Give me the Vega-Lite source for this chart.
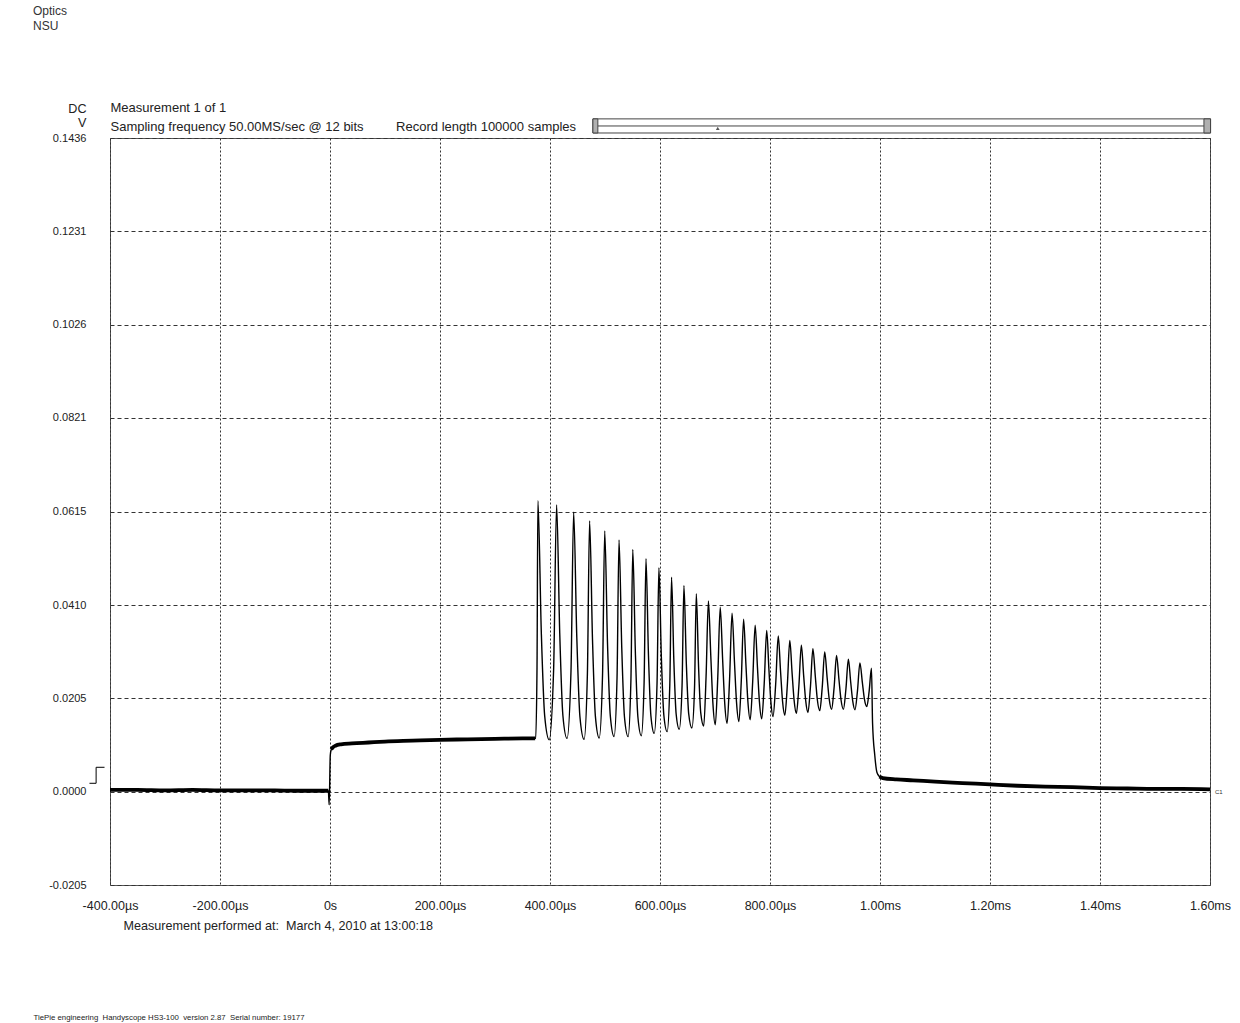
{
  "$schema": "https://vega.github.io/schema/vega-lite/v6.json",
  "width": 1100,
  "height": 747,
  "autosize": {"type": "none"},
  "padding": {"left": 110, "top": 138, "right": 30, "bottom": 138},
  "background": "white",
  "config": {
    "font": "Liberation Sans",
    "view": {"stroke": "#555555", "strokeWidth": 1}
  },
  "title": {
    "text": ["Optics", "NSU"],
    "anchor": "start",
    "frame": "group",
    "dx": -77,
    "offset": 69,
    "fontSize": 12,
    "fontWeight": "normal",
    "color": "#333333",
    "lineHeight": 15,
    "font": "Liberation Sans"
  },
  "datasets": {
    "trace": [
      {"t": -400, "v": 0.0004, "seg": "pre"},
      {"t": -350, "v": 0.0004, "seg": "pre"},
      {"t": -300, "v": 0.0003, "seg": "pre"},
      {"t": -250, "v": 0.0004, "seg": "pre"},
      {"t": -200, "v": 0.0003, "seg": "pre"},
      {"t": -150, "v": 0.0003, "seg": "pre"},
      {"t": -100, "v": 0.0003, "seg": "pre"},
      {"t": -50, "v": 0.0002, "seg": "pre"},
      {"t": -3, "v": 0.0002, "seg": "pre"},
      {"t": -1.5, "v": -0.0029, "seg": "step"},
      {"t": 0.5, "v": 0.0080, "seg": "step"},
      {"t": 2.5, "v": 0.0093, "seg": "plateau"},
      {"t": 5, "v": 0.0097, "seg": "plateau"},
      {"t": 10, "v": 0.0101, "seg": "plateau"},
      {"t": 20, "v": 0.0104, "seg": "plateau"},
      {"t": 40, "v": 0.0106, "seg": "plateau"},
      {"t": 70, "v": 0.0108, "seg": "plateau"},
      {"t": 100, "v": 0.0110, "seg": "plateau"},
      {"t": 150, "v": 0.0112, "seg": "plateau"},
      {"t": 200, "v": 0.0114, "seg": "plateau"},
      {"t": 250, "v": 0.0115, "seg": "plateau"},
      {"t": 300, "v": 0.0116, "seg": "plateau"},
      {"t": 350, "v": 0.0117, "seg": "plateau"},
      {"t": 373, "v": 0.0117, "seg": "plateau"},
      {"t": 374, "v": 0.0117, "seg": "train"},
      {"t": 376.4, "v": 0.0274, "seg": "train"},
      {"t": 378, "v": 0.0639, "seg": "train"},
      {"t": 384.2, "v": 0.0350, "seg": "train"},
      {"t": 390.3, "v": 0.0167, "seg": "train"},
      {"t": 398.5, "v": 0.0114, "seg": "train"},
      {"t": 406.6, "v": 0.0269, "seg": "train"},
      {"t": 412, "v": 0.0630, "seg": "train"},
      {"t": 417.7, "v": 0.0348, "seg": "train"},
      {"t": 423.4, "v": 0.0168, "seg": "train"},
      {"t": 431, "v": 0.0117, "seg": "train"},
      {"t": 438.2, "v": 0.0266, "seg": "train"},
      {"t": 443, "v": 0.0614, "seg": "train"},
      {"t": 448.7, "v": 0.0340, "seg": "train"},
      {"t": 454.4, "v": 0.0165, "seg": "train"},
      {"t": 462, "v": 0.0115, "seg": "train"},
      {"t": 468, "v": 0.0259, "seg": "train"},
      {"t": 472, "v": 0.0595, "seg": "train"},
      {"t": 477.3, "v": 0.0333, "seg": "train"},
      {"t": 482.5, "v": 0.0166, "seg": "train"},
      {"t": 489.5, "v": 0.0118, "seg": "train"},
      {"t": 495.5, "v": 0.0255, "seg": "train"},
      {"t": 499.5, "v": 0.0573, "seg": "train"},
      {"t": 504.6, "v": 0.0324, "seg": "train"},
      {"t": 509.7, "v": 0.0166, "seg": "train"},
      {"t": 516.5, "v": 0.0121, "seg": "train"},
      {"t": 521.9, "v": 0.0251, "seg": "train"},
      {"t": 525.5, "v": 0.0553, "seg": "train"},
      {"t": 530.5, "v": 0.0315, "seg": "train"},
      {"t": 535.4, "v": 0.0164, "seg": "train"},
      {"t": 542, "v": 0.0121, "seg": "train"},
      {"t": 547.1, "v": 0.0244, "seg": "train"},
      {"t": 550.5, "v": 0.0532, "seg": "train"},
      {"t": 555.2, "v": 0.0307, "seg": "train"},
      {"t": 559.8, "v": 0.0164, "seg": "train"},
      {"t": 566, "v": 0.0123, "seg": "train"},
      {"t": 571.1, "v": 0.0240, "seg": "train"},
      {"t": 574.5, "v": 0.0512, "seg": "train"},
      {"t": 579, "v": 0.0301, "seg": "train"},
      {"t": 583.5, "v": 0.0166, "seg": "train"},
      {"t": 589.5, "v": 0.0128, "seg": "train"},
      {"t": 594.6, "v": 0.0237, "seg": "train"},
      {"t": 598, "v": 0.0492, "seg": "train"},
      {"t": 602.5, "v": 0.0294, "seg": "train"},
      {"t": 607, "v": 0.0168, "seg": "train"},
      {"t": 613, "v": 0.0132, "seg": "train"},
      {"t": 617.8, "v": 0.0234, "seg": "train"},
      {"t": 621, "v": 0.0471, "seg": "train"},
      {"t": 625.2, "v": 0.0287, "seg": "train"},
      {"t": 629.4, "v": 0.0170, "seg": "train"},
      {"t": 635, "v": 0.0137, "seg": "train"},
      {"t": 640.1, "v": 0.0232, "seg": "train"},
      {"t": 643.5, "v": 0.0453, "seg": "train"},
      {"t": 647.9, "v": 0.0281, "seg": "train"},
      {"t": 652.2, "v": 0.0171, "seg": "train"},
      {"t": 658, "v": 0.0140, "seg": "train"},
      {"t": 662.8, "v": 0.0229, "seg": "train"},
      {"t": 666, "v": 0.0435, "seg": "train"},
      {"t": 670.1, "v": 0.0275, "seg": "train"},
      {"t": 674.1, "v": 0.0173, "seg": "train"},
      {"t": 679.5, "v": 0.0144, "seg": "train"},
      {"t": 683.8, "v": 0.0254, "seg": "train"},
      {"t": 688, "v": 0.0419, "seg": "train"},
      {"t": 692.4, "v": 0.0297, "seg": "train"},
      {"t": 696.1, "v": 0.0196, "seg": "train"},
      {"t": 700.5, "v": 0.0147, "seg": "train"},
      {"t": 705, "v": 0.0250, "seg": "train"},
      {"t": 709.5, "v": 0.0405, "seg": "train"},
      {"t": 713.9, "v": 0.0290, "seg": "train"},
      {"t": 717.6, "v": 0.0196, "seg": "train"},
      {"t": 722, "v": 0.0150, "seg": "train"},
      {"t": 726.5, "v": 0.0247, "seg": "train"},
      {"t": 731, "v": 0.0392, "seg": "train"},
      {"t": 735.4, "v": 0.0285, "seg": "train"},
      {"t": 739.1, "v": 0.0197, "seg": "train"},
      {"t": 743.5, "v": 0.0154, "seg": "train"},
      {"t": 747.8, "v": 0.0244, "seg": "train"},
      {"t": 752, "v": 0.0379, "seg": "train"},
      {"t": 756.2, "v": 0.0280, "seg": "train"},
      {"t": 759.8, "v": 0.0198, "seg": "train"},
      {"t": 764, "v": 0.0158, "seg": "train"},
      {"t": 768.5, "v": 0.0241, "seg": "train"},
      {"t": 773, "v": 0.0366, "seg": "train"},
      {"t": 777.2, "v": 0.0273, "seg": "train"},
      {"t": 780.8, "v": 0.0197, "seg": "train"},
      {"t": 785, "v": 0.0160, "seg": "train"},
      {"t": 789.5, "v": 0.0238, "seg": "train"},
      {"t": 794, "v": 0.0354, "seg": "train"},
      {"t": 798, "v": 0.0269, "seg": "train"},
      {"t": 801.5, "v": 0.0199, "seg": "train"},
      {"t": 805.5, "v": 0.0165, "seg": "train"},
      {"t": 810.3, "v": 0.0236, "seg": "train"},
      {"t": 815, "v": 0.0342, "seg": "train"},
      {"t": 819.2, "v": 0.0264, "seg": "train"},
      {"t": 822.8, "v": 0.0199, "seg": "train"},
      {"t": 827, "v": 0.0168, "seg": "train"},
      {"t": 831.5, "v": 0.0234, "seg": "train"},
      {"t": 836, "v": 0.0332, "seg": "train"},
      {"t": 840.2, "v": 0.0260, "seg": "train"},
      {"t": 843.8, "v": 0.0201, "seg": "train"},
      {"t": 848, "v": 0.0172, "seg": "train"},
      {"t": 852.5, "v": 0.0232, "seg": "train"},
      {"t": 857, "v": 0.0322, "seg": "train"},
      {"t": 861.2, "v": 0.0255, "seg": "train"},
      {"t": 864.8, "v": 0.0201, "seg": "train"},
      {"t": 869, "v": 0.0174, "seg": "train"},
      {"t": 873.5, "v": 0.0230, "seg": "train"},
      {"t": 878, "v": 0.0314, "seg": "train"},
      {"t": 882.4, "v": 0.0253, "seg": "train"},
      {"t": 886.1, "v": 0.0202, "seg": "train"},
      {"t": 890.5, "v": 0.0178, "seg": "train"},
      {"t": 895, "v": 0.0230, "seg": "train"},
      {"t": 899.5, "v": 0.0307, "seg": "train"},
      {"t": 903.9, "v": 0.0250, "seg": "train"},
      {"t": 907.6, "v": 0.0204, "seg": "train"},
      {"t": 912, "v": 0.0181, "seg": "train"},
      {"t": 916.5, "v": 0.0228, "seg": "train"},
      {"t": 921, "v": 0.0299, "seg": "train"},
      {"t": 925.4, "v": 0.0246, "seg": "train"},
      {"t": 929.1, "v": 0.0202, "seg": "train"},
      {"t": 933.5, "v": 0.0181, "seg": "train"},
      {"t": 938, "v": 0.0225, "seg": "train"},
      {"t": 942.5, "v": 0.0291, "seg": "train"},
      {"t": 946.7, "v": 0.0241, "seg": "train"},
      {"t": 950.3, "v": 0.0200, "seg": "train"},
      {"t": 954.5, "v": 0.0180, "seg": "train"},
      {"t": 959, "v": 0.0221, "seg": "train"},
      {"t": 963.5, "v": 0.0283, "seg": "train"},
      {"t": 967.9, "v": 0.0240, "seg": "train"},
      {"t": 971.6, "v": 0.0204, "seg": "train"},
      {"t": 976, "v": 0.0187, "seg": "train"},
      {"t": 980.3, "v": 0.0221, "seg": "train"},
      {"t": 984.5, "v": 0.0271, "seg": "train"},
      {"t": 986.5, "v": 0.0150, "seg": "train"},
      {"t": 990.5, "v": 0.0080, "seg": "train"},
      {"t": 994.5, "v": 0.0042, "seg": "train"},
      {"t": 999, "v": 0.0033, "seg": "post"},
      {"t": 1005, "v": 0.0030, "seg": "post"},
      {"t": 1030, "v": 0.0027, "seg": "post"},
      {"t": 1060, "v": 0.0025, "seg": "post"},
      {"t": 1100, "v": 0.0022, "seg": "post"},
      {"t": 1150, "v": 0.0019, "seg": "post"},
      {"t": 1200, "v": 0.0016, "seg": "post"},
      {"t": 1250, "v": 0.0013, "seg": "post"},
      {"t": 1300, "v": 0.0011, "seg": "post"},
      {"t": 1350, "v": 0.0010, "seg": "post"},
      {"t": 1400, "v": 0.0008, "seg": "post"},
      {"t": 1450, "v": 0.0007, "seg": "post"},
      {"t": 1500, "v": 0.0006, "seg": "post"},
      {"t": 1550, "v": 0.0006, "seg": "post"},
      {"t": 1600, "v": 0.0005, "seg": "post"}
    ]
  },
  "layer": [
    {
      "data": {"name": "trace"},
      "mark": {"type": "line", "color": "#000000", "strokeWidth": 1.4, "interpolate": "monotone"},
      "encoding": {
        "x": {
          "field": "t", "type": "quantitative",
          "scale": {"domain": [-400, 1600], "nice": false, "zero": false},
          "axis": {
            "orient": "bottom",
            "values": [-400, -200, 0, 200, 400, 600, 800, 1000, 1200, 1400, 1600],
            "labelExpr": "datum.value == 0 ? '0s' : (abs(datum.value) < 1000 ? (datum.value < 0 ? '-' : '') + format(abs(datum.value), '.2f') + 'µs' : format(datum.value / 1000, '.2f') + 'ms')",
            "labelFontSize": 12.5, "labelColor": "#222222", "labelPadding": 14,
            "labelFlush": false, "labelOverlap": false,
            "ticks": false, "domain": false,
            "grid": true, "gridColor": "#333333", "gridDash": [2, 2], "gridWidth": 1, "gridOpacity": 1,
            "title": "Measurement performed at:\u00a0\u00a0March 4, 2010 at 13:00:18",
            "titleFontSize": 12.6, "titleFontWeight": "normal", "titleColor": "#222222",
            "titleAnchor": "start", "titleAlign": "left", "titleBaseline": "alphabetic",
            "titleX": 13, "titleY": 44
          }
        },
        "y": {
          "field": "v", "type": "quantitative",
          "scale": {"domain": [-0.0205, 0.1436], "nice": false, "zero": false},
          "axis": {
            "orient": "left",
            "values": [-0.0205, 0, 0.0205, 0.041, 0.0615, 0.0821, 0.1026, 0.1231, 0.1436],
            "labelExpr": "(datum.value < 0 ? '-' : '') + format(abs(datum.value), '.4f')",
            "labelFontSize": 11, "labelColor": "#222222", "labelPadding": 24,
            "labelFlush": false, "labelOverlap": false,
            "ticks": false, "domain": false,
            "grid": true, "gridColor": "#333333", "gridDash": [4, 3], "gridWidth": 1, "gridOpacity": 1,
            "title": ["DC", "V"],
            "titleAngle": 0, "titleAlign": "right", "titleBaseline": "alphabetic",
            "titleX": -24, "titleY": -26, "titleLineHeight": 14,
            "titleFontSize": 12.6, "titleFontWeight": "normal", "titleColor": "#222222"
          }
        }
      }
    },
    {
      "data": {"name": "trace"},
      "transform": [{"filter": "datum.seg == 'pre' || datum.seg == 'plateau' || datum.seg == 'post'"}],
      "mark": {"type": "line", "color": "#000000", "strokeWidth": 3.8, "interpolate": "monotone"},
      "encoding": {
        "x": {
          "field": "t", "type": "quantitative",
          "scale": {"domain": [-400, 1600], "nice": false, "zero": false},
          "axis": {
            "orient": "top", "labels": false, "ticks": false, "domain": false, "grid": false,
            "title": ["Measurement 1 of 1", "Sampling frequency 50.00MS/sec @ 12 bits\u00a0\u00a0\u00a0\u00a0\u00a0\u00a0\u00a0\u00a0\u00a0Record length 100000 samples"],
            "titleFontSize": 13, "titleFontWeight": "normal", "titleColor": "#222222",
            "titleAnchor": "start", "titleAlign": "left", "titleBaseline": "alphabetic",
            "titleX": 0, "titleY": -26.5, "titleLineHeight": 19
          }
        },
        "y": {
          "field": "v", "type": "quantitative",
          "scale": {"domain": [-0.0205, 0.1436], "nice": false, "zero": false},
          "axis": {
            "orient": "right", "labels": false, "ticks": false, "domain": false, "grid": false,
            "title": "TiePie engineering\u00a0\u00a0Handyscope HS3-100\u00a0\u00a0version 2.87\u00a0\u00a0Serial number: 19177",
            "titleFontSize": 7.8, "titleFontWeight": "normal", "titleColor": "#222222",
            "titleAngle": 0, "titleAlign": "left", "titleBaseline": "alphabetic",
            "titleX": -1177, "titleY": 881
          }
        },
        "detail": {"field": "seg"}
      }
    },
    {
      "data": {"values": [{}]},
      "mark": {"type": "text", "text": "C1", "fontSize": 6, "align": "left", "baseline": "middle", "dx": 5, "color": "#333333"},
      "encoding": {
        "x": {"datum": 1600, "type": "quantitative", "scale": {"domain": [-400, 1600], "nice": false, "zero": false}, "axis": null},
        "y": {"datum": 0, "type": "quantitative", "scale": {"domain": [-0.0205, 0.1436], "nice": false, "zero": false}, "axis": null}
      }
    },
    {
      "data": {"values": [{}]},
      "mark": {"type": "point", "shape": "M-0.94,1H-0.11V-1H0.94", "size": 256, "filled": false, "stroke": "#000000", "strokeWidth": 1, "opacity": 1, "xOffset": -13},
      "encoding": {
        "x": {"datum": -400, "type": "quantitative", "scale": {"domain": [-400, 1600], "nice": false, "zero": false}, "axis": null},
        "y": {"datum": 0.0036, "type": "quantitative", "scale": {"domain": [-0.0205, 0.1436], "nice": false, "zero": false}, "axis": null}
      }
    },
    {
      "data": {"values": [{}]},
      "mark": {"type": "rect", "fill": "#ffffff", "stroke": "#444444", "strokeWidth": 1},
      "encoding": {
        "x": {"datum": 478, "type": "quantitative", "scale": {"domain": [-400, 1600], "nice": false, "zero": false}, "axis": null},
        "x2": {"datum": 1601},
        "y": {"datum": 0.1447, "type": "quantitative", "scale": {"domain": [-0.0205, 0.1436], "nice": false, "zero": false}, "axis": null},
        "y2": {"datum": 0.1478}
      }
    },
    {
      "data": {"values": [{}]},
      "mark": {"type": "rule", "stroke": "#444444", "strokeWidth": 1},
      "encoding": {
        "x": {"datum": 487, "type": "quantitative", "scale": {"domain": [-400, 1600], "nice": false, "zero": false}, "axis": null},
        "x2": {"datum": 1589},
        "y": {"datum": 0.14624, "type": "quantitative", "scale": {"domain": [-0.0205, 0.1436], "nice": false, "zero": false}, "axis": null}
      }
    },
    {
      "data": {"values": [{"a": 478, "b": 487}, {"a": 1589, "b": 1601}]},
      "mark": {"type": "rect", "fill": "#b0b0b0", "stroke": "#444444", "strokeWidth": 1},
      "encoding": {
        "x": {"field": "a", "type": "quantitative", "scale": {"domain": [-400, 1600], "nice": false, "zero": false}, "axis": null},
        "x2": {"field": "b"},
        "y": {"datum": 0.1447, "type": "quantitative", "scale": {"domain": [-0.0205, 0.1436], "nice": false, "zero": false}, "axis": null},
        "y2": {"datum": 0.1478}
      }
    },
    {
      "data": {"values": [{}]},
      "mark": {"type": "point", "shape": "triangle-up", "size": 14, "filled": true, "color": "#555555", "opacity": 1},
      "encoding": {
        "x": {"datum": 705, "type": "quantitative", "scale": {"domain": [-400, 1600], "nice": false, "zero": false}, "axis": null},
        "y": {"datum": 0.1457, "type": "quantitative", "scale": {"domain": [-0.0205, 0.1436], "nice": false, "zero": false}, "axis": null}
      }
    }
  ],
  "resolve": {"axis": {"x": "independent", "y": "independent"}}
}
